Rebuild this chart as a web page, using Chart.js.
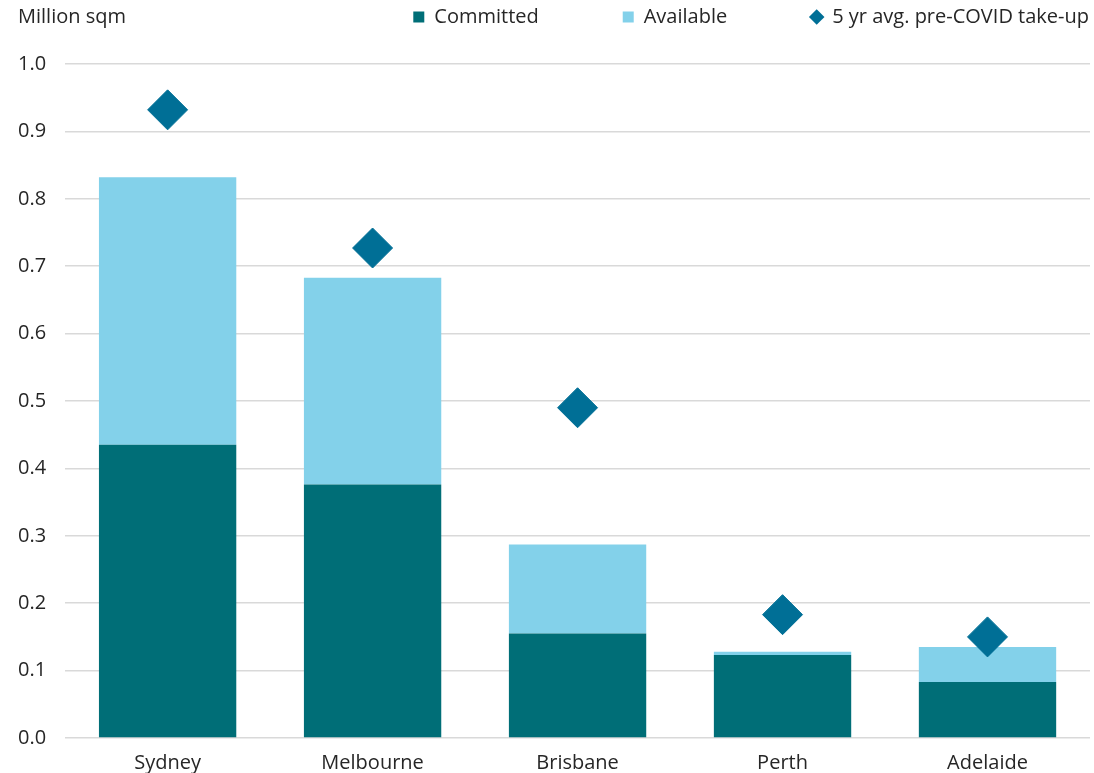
<!DOCTYPE html>
<html>
<head>
<meta charset="utf-8">
<script src="https://cdn.jsdelivr.net/npm/chart.js@4/dist/chart.umd.min.js"></script>
<style>
  html, body { margin: 0; padding: 0; background: #ffffff; }
  #wrap { width: 1094px; height: 773px; position: relative; }
</style>
</head>
<body>
<div id="wrap"><canvas id="c" width="1094" height="773"></canvas></div>
<script>
const categories = ['Sydney', 'Melbourne', 'Brisbane', 'Perth', 'Adelaide'];
const committed = [0.435, 0.376, 0.155, 0.123, 0.083];
const available = [0.397, 0.307, 0.132, 0.005, 0.052];
const preCovidAvg = [0.932, 0.727, 0.490, 0.183, 0.150];
const yTicks = [0.0, 0.1, 0.2, 0.3, 0.4, 0.5, 0.6, 0.7, 0.8, 0.9, 1.0];
const unitLabel = 'Million sqm';

const FONT = '"Open Sans", sans-serif';
const FS = 20;
const TEXT = '#262626';
const LEGEND_GAP = 84;

const unitPlugin = {
  id: 'unitLabel',
  afterLayout(chart) {
    // push the legend row to the right edge like the reference
    const lg = chart.legend;
    if (lg) { lg.left += LEGEND_GAP - 1; lg.right += LEGEND_GAP - 1; }
  },
  afterDraw(chart) {
    const ctx = chart.ctx;
    ctx.save();
    ctx.font = FS + 'px ' + FONT;
    ctx.fillStyle = TEXT;
    ctx.textAlign = 'left';
    ctx.textBaseline = 'middle';
    ctx.fillText(unitLabel, 18, 17);
    ctx.restore();
  }
};

new Chart(document.getElementById('c'), {
  data: {
    labels: categories,
    datasets: [
      {
        type: 'bar',
        label: 'Committed',
        data: committed,
        backgroundColor: '#006e77',
        stack: 'supply',
        order: 1
      },
      {
        type: 'bar',
        label: 'Available',
        data: available,
        backgroundColor: '#83d1ea',
        stack: 'supply',
        order: 2
      },
      {
        type: 'line',
        label: '5 yr avg. pre-COVID take-up',
        data: preCovidAvg,
        showLine: false,
        pointStyle: 'rectRot',
        pointRadius: 20,
        pointHoverRadius: 20,
        backgroundColor: '#006f96',
        borderColor: '#006f96',
        borderWidth: 1,
        stack: 'avg',
        order: 0
      }
    ]
  },
  options: {
    responsive: false,
    animation: false,
    events: [],
    layout: { autoPadding: false, padding: { left: -1, right: 4, top: 7 - LEGEND_GAP, bottom: -7 } },
    plugins: {
      tooltip: { enabled: false },
      title: {
        display: true,
        text: '',
        weight: 500,
        font: { size: 1, lineHeight: 1 },
        padding: { top: 0, bottom: 26 }
      },
      legend: {
        position: 'top',
        align: 'end',
        labels: {
          font: { family: FONT, size: FS },
          color: TEXT,
          usePointStyle: true,
          boxWidth: 11,
          boxHeight: 11,
          padding: LEGEND_GAP,
          sort: (a, b) => a.datasetIndex - b.datasetIndex,
          generateLabels(chart) {
            return chart.data.datasets.map((ds, i) => ({
              text: ds.label,
              fillStyle: ds.backgroundColor,
              strokeStyle: ds.backgroundColor,
              lineWidth: 0,
              pointStyle: ds.type === 'line' ? 'rectRot' : 'rect',
              hidden: false,
              datasetIndex: i,
              fontColor: TEXT
            }));
          }
        }
      }
    },
    scales: {
      x: {
        stacked: true,
        grid: { display: false },
        border: { display: false },
        ticks: { font: { family: FONT, size: FS }, color: TEXT, padding: 5 }
      },
      y: {
        stacked: true,
        min: 0,
        max: 1.0,
        afterBuildTicks(axis) {
          axis.ticks = yTicks.map(v => ({ value: v }));
        },
        grid: { color: '#d9d9d9', lineWidth: 1.5, drawTicks: false },
        border: { display: false },
        ticks: {
          font: { family: FONT, size: FS },
          color: TEXT,
          padding: 19,
          callback: v => Number(v).toFixed(1)
        }
      }
    },
    datasets: { bar: { categoryPercentage: 1.0, barPercentage: 0.67 } }
  },
  plugins: [unitPlugin]
});
</script>
</body>
</html>
